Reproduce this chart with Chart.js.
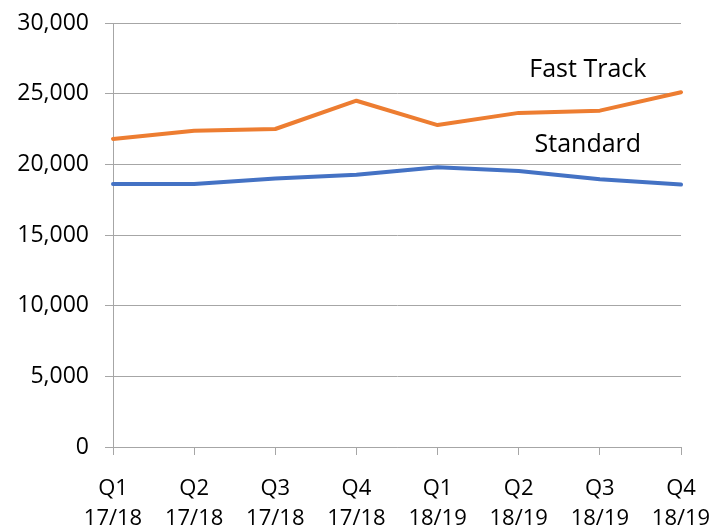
<!DOCTYPE html>
<html>
<head>
<meta charset="utf-8">
<script src="https://cdn.jsdelivr.net/npm/chart.js@4"></script>
<style>
  html, body { margin: 0; padding: 0; background: #fff; }
  #wrap { width: 726px; height: 529px; }
</style>
</head>
<body>
<div id="wrap"><canvas id="chart"></canvas></div>
<script>
// 분기 라벨
const quarters = [
    ['Q1', '17/18'], ['Q2', '17/18'], ['Q3', '17/18'], ['Q4', '17/18'],
    ['Q1', '18/19'], ['Q2', '18/19'], ['Q3', '18/19'], ['Q4', '18/19']
];
const fastTrack = [21800, 22380, 22500, 24500, 22780, 23640, 23800, 25100];
const standard = [18610, 18610, 19000, 19270, 19790, 19530, 18950, 18570];
const yTicks = [0, 5000, 10000, 15000, 20000, 25000, 30000];

const FONT = "'Open Sans', sans-serif";

// 시리즈 이름을 선 옆에 직접 표시
const seriesLabels = {
    id: 'seriesLabels',
    afterDatasetsDraw(chart) {
        const { ctx, scales: { x, y } } = chart;
        ctx.save();
        ctx.font = '25px ' + FONT;
        ctx.fillStyle = '#000';
        ctx.textAlign = 'center';
        ctx.textBaseline = 'middle';
        const cx = x.getPixelForValue(6) - 12;
        ctx.fillText('Fast Track', cx, y.getPixelForValue(26700));
        ctx.fillText('Standard', cx, y.getPixelForValue(21350));
        ctx.restore();
    }
};

new Chart(document.getElementById('chart'), {
    type: 'line',
    data: {
        labels: quarters,
        datasets: [
            {
                label: 'Fast Track',
                data: fastTrack,
                borderColor: '#ED7D31',
                borderWidth: 4,
                pointRadius: 0,
                tension: 0,
                borderJoinStyle: 'round',
                borderCapStyle: 'round'
            },
            {
                label: 'Standard',
                data: standard,
                borderColor: '#4472C4',
                borderWidth: 4,
                pointRadius: 0,
                tension: 0,
                borderJoinStyle: 'round',
                borderCapStyle: 'round'
            }
        ]
    },
    options: {
        responsive: true,
        maintainAspectRatio: false,
        animation: false,
        layout: { padding: { left: 10, right: 45, top: 23, bottom: 0 } },
        plugins: {
            legend: { display: false },
            tooltip: { enabled: false }
        },
        scales: {
            x: {
                offset: false,
                afterFit(axis) {
                    axis.height = 82;
                    axis.paddingLeft = 0;
                    axis.paddingRight = 0;
                },
                grid: {
                    drawOnChartArea: false,
                    color: '#A6A6A6',
                    tickLength: 8,
                    tickColor: '#A6A6A6'
                },
                border: { color: '#A6A6A6', width: 1 },
                ticks: {
                    color: '#000',
                    font: { family: FONT, size: 22, lineHeight: 1.35 },
                    padding: 19,
                    maxRotation: 0,
                    autoSkip: false
                }
            },
            y: {
                min: 0,
                max: 30000,
                afterFit(axis) {
                    axis.width = 103;
                    axis.paddingTop = 0;
                    axis.paddingBottom = 0;
                },
                afterBuildTicks(axis) {
                    axis.ticks = yTicks.map(v => ({ value: v }));
                },
                grid: {
                    color: '#A6A6A6',
                    tickLength: 8,
                    tickColor: '#A6A6A6'
                },
                border: { color: '#A6A6A6', width: 1 },
                ticks: {
                    color: '#000',
                    font: { family: FONT, size: 23 },
                    padding: 16,
                    callback: v => v.toLocaleString('en-US')
                }
            }
        }
    },
    plugins: [seriesLabels]
});
</script>
</body>
</html>
